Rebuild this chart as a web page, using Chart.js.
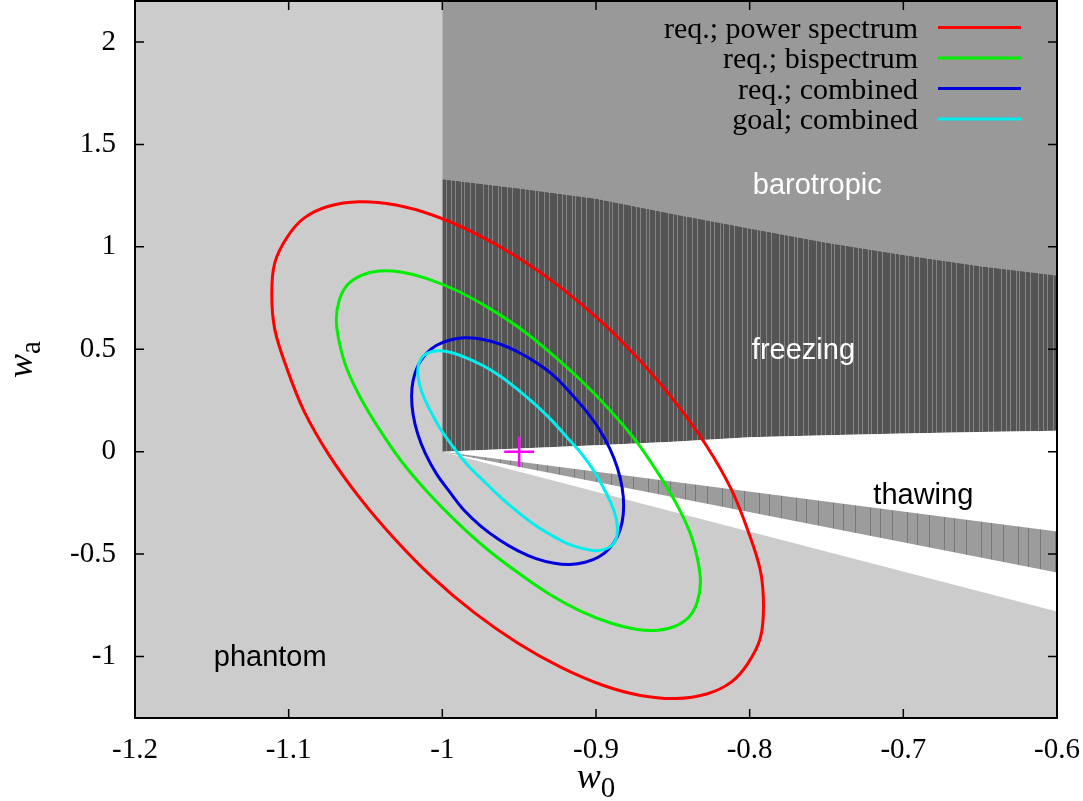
<!DOCTYPE html>
<html>
<head>
<meta charset="utf-8">
<script src="https://cdn.jsdelivr.net/npm/chart.js@4.4.1/dist/chart.umd.min.js"></script>
<style>
  body { margin: 0; background: #fff; }
  canvas { display: block; }
</style>
</head>
<body>
<canvas id="myChart" width="1083" height="801"></canvas>
<script>
// axis ticks
var xTicks = [-1.2, -1.1, -1, -0.9, -0.8, -0.7, -0.6];
var xTickLabels = ['-1.2', '-1.1', '-1', '-0.9', '-0.8', '-0.7', '-0.6'];
var yTicks = [-1, -0.5, 0, 0.5, 1, 1.5, 2];
var yTickLabels = ['-1', '-0.5', '0', '0.5', '1', '1.5', '2'];

var names = ['req.; power spectrum', 'req.; bispectrum', 'req.; combined', 'goal; combined'];

// contours (w0, wa), going round once (curve is closed)
var powerW0 = [-0.791, -0.793, -0.801, -0.812, -0.828, -0.848, -0.871, -0.896, -0.923, -0.951, -0.979, -1.006,
  -1.031, -1.054, -1.074, -1.090, -1.101, -1.109, -1.111, -1.109, -1.101, -1.090, -1.074, -1.054,
  -1.031, -1.006, -0.979, -0.951, -0.923, -0.896, -0.871, -0.848, -0.828, -0.812, -0.801, -0.793];
var powerWa = [-0.756, -0.908, -1.032, -1.125, -1.183, -1.205, -1.190, -1.139, -1.052, -0.934, -0.787, -0.616,
  -0.426, -0.223, -0.013, 0.198, 0.403, 0.596, 0.771, 0.923, 1.047, 1.140, 1.198, 1.220,
  1.205, 1.154, 1.067, 0.949, 0.802, 0.631, 0.441, 0.238, 0.028, -0.183, -0.388, -0.581];

var bispecW0 = [-0.832, -0.834, -0.839, -0.848, -0.860, -0.874, -0.891, -0.910, -0.930, -0.950, -0.971, -0.991,
  -1.010, -1.027, -1.041, -1.053, -1.062, -1.067, -1.069, -1.067, -1.062, -1.053, -1.041, -1.027,
  -1.010, -0.991, -0.971, -0.950, -0.930, -0.910, -0.891, -0.874, -0.860, -0.848, -0.839, -0.834];
var bispecWa = [-0.636, -0.731, -0.803, -0.850, -0.872, -0.867, -0.835, -0.778, -0.697, -0.595, -0.475, -0.340,
  -0.194, -0.043, 0.110, 0.260, 0.402, 0.532, 0.646, 0.741, 0.813, 0.860, 0.882, 0.877,
  0.845, 0.788, 0.707, 0.605, 0.485, 0.350, 0.204, 0.053, -0.100, -0.250, -0.392, -0.522];

var combW0 = [-0.882, -0.883, -0.886, -0.891, -0.898, -0.907, -0.917, -0.927, -0.939, -0.951, -0.963, -0.975,
  -0.986, -0.995, -1.004, -1.011, -1.016, -1.019, -1.020, -1.019, -1.016, -1.011, -1.004, -0.995,
  -0.986, -0.975, -0.963, -0.951, -0.939, -0.927, -0.917, -0.907, -0.898, -0.891, -0.886, -0.883];
var combWa = [-0.263, -0.344, -0.413, -0.470, -0.513, -0.540, -0.551, -0.545, -0.522, -0.483, -0.430, -0.363,
  -0.285, -0.199, -0.106, -0.010, 0.086, 0.180, 0.268, 0.349, 0.418, 0.475, 0.518, 0.545,
  0.556, 0.550, 0.527, 0.488, 0.435, 0.368, 0.290, 0.204, 0.111, 0.015, -0.081, -0.175];

var goalW0 = [-0.886, -0.887, -0.890, -0.895, -0.901, -0.909, -0.919, -0.929, -0.940, -0.951, -0.962, -0.973,
  -0.984, -0.993, -1.001, -1.007, -1.012, -1.015, -1.016, -1.015, -1.012, -1.007, -1.001, -0.993,
  -0.984, -0.973, -0.962, -0.951, -0.940, -0.929, -0.919, -0.909, -0.901, -0.895, -0.890, -0.887];
var goalWa = [-0.381, -0.427, -0.460, -0.478, -0.483, -0.472, -0.447, -0.408, -0.357, -0.294, -0.223, -0.144,
  -0.061, 0.024, 0.108, 0.189, 0.265, 0.333, 0.391, 0.437, 0.470, 0.488, 0.493, 0.482,
  0.457, 0.418, 0.367, 0.304, 0.233, 0.154, 0.071, -0.014, -0.098, -0.179, -0.255, -0.323];

// fiducial model
var fidW0 = [-0.95];
var fidWa = [0];

// region boundaries
var freezeW0 = [-1, -0.95, -0.9, -0.85, -0.8, -0.75, -0.7, -0.65, -0.6];
var freezeTop = [1.33, 1.285, 1.235, 1.16, 1.09, 1.02, 0.96, 0.905, 0.86];
var freezeBottom = [0, 0.016, 0.031, 0.048, 0.07, 0.08, 0.089, 0.096, 0.102];
var thawW0 = [-1, -0.6];
var thawTop = [0, -0.39];
var thawBottom = [0, -0.59];
var phantomEdge = [0, -0.78];

var serif = "'Liberation Serif', 'Times New Roman', serif";
var sans = "'Liberation Sans', Arial, sans-serif";

// region names, placed in data coords
var notes = [
  { text: 'barotropic', x: -0.756, y: 1.259, color: '#ffffff' },
  { text: 'freezing', x: -0.765, y: 0.454, color: '#ffffff' },
  { text: 'thawing', x: -0.687, y: -0.254, color: '#000000' },
  { text: 'phantom', x: -1.112, y: -1.044, color: '#000000' }
];

function pts(xs, ys) {
  return xs.map(function (x, i) { return { x: x, y: ys[i] }; });
}

// vertical hatching like the gnuplot fill
function stripes(base, line, cols, w) {
  var c = document.createElement('canvas');
  c.width = w; c.height = 8;
  var g = c.getContext('2d');
  g.fillStyle = base;
  g.fillRect(0, 0, w, 8);
  g.fillStyle = line;
  cols.forEach(function (x) { g.fillRect(x, 0, 1, 8); });
  return g.createPattern(c, 'repeat');
}
var freezeFill = stripes('#545454', '#858585', [2, 7, 11, 17, 20, 26, 31], 37);
var thawFill = stripes('#9c9c9c', '#787878', [4, 19, 29], 37);

var backdrop = {
  id: 'backdrop',
  beforeDatasetsDraw: function (chart) {
    var a = chart.chartArea, ctx = chart.ctx;
    ctx.save();
    ctx.fillStyle = '#cccccc';
    ctx.fillRect(a.left, a.top, a.right - a.left, a.bottom - a.top);
    ctx.restore();
  }
};

// contours are closed curves: let the line element join last point to first
var closeLoop = {
  id: 'closeLoop',
  afterDatasetUpdate: function (chart, args) {
    var ds = chart.data.datasets[args.index];
    if (ds.closed && args.meta.dataset) {
      args.meta.dataset._loop = true;
      args.meta.dataset._fullLoop = true;
    }
  }
};

// border + inward ticks on all four sides
var frame = {
  id: 'frame',
  afterDatasetsDraw: function (chart) {
    var a = chart.chartArea, ctx = chart.ctx;
    var sx = chart.scales.x, sy = chart.scales.y;
    ctx.save();
    ctx.strokeStyle = '#000';
    ctx.lineWidth = 1.5;
    ctx.beginPath();
    xTicks.forEach(function (v) {
      var px = sx.getPixelForValue(v);
      ctx.moveTo(px, a.bottom); ctx.lineTo(px, a.bottom - 9);
      ctx.moveTo(px, a.top); ctx.lineTo(px, a.top + 9);
    });
    yTicks.forEach(function (v) {
      var py = sy.getPixelForValue(v);
      ctx.moveTo(a.left, py); ctx.lineTo(a.left + 9, py);
      ctx.moveTo(a.right, py); ctx.lineTo(a.right - 9, py);
    });
    ctx.stroke();
    ctx.lineWidth = 2;
    ctx.strokeRect(a.left, a.top, a.right - a.left, a.bottom - a.top);
    ctx.restore();
  }
};

var extras = {
  id: 'extras',
  afterDraw: function (chart) {
    var ctx = chart.ctx;
    var sx = chart.scales.x, sy = chart.scales.y;
    ctx.save();

    // region labels
    ctx.font = '29px ' + sans;
    ctx.textAlign = 'center';
    ctx.textBaseline = 'alphabetic';
    notes.forEach(function (n) {
      ctx.fillStyle = n.color;
      ctx.fillText(n.text, sx.getPixelForValue(n.x), sy.getPixelForValue(n.y));
    });

    // legend, text left of the line sample
    ctx.font = '30px ' + serif;
    ctx.textAlign = 'right';
    for (var i = 0; i < names.length; i++) {
      var ds = chart.data.datasets[i];
      var y = 27.5 + i * 30.5;
      ctx.fillStyle = '#000';
      ctx.fillText(ds.label, 918, y + 10);
      ctx.strokeStyle = ds.borderColor;
      ctx.lineWidth = 3;
      ctx.beginPath();
      ctx.moveTo(938, y);
      ctx.lineTo(1021, y);
      ctx.stroke();
    }

    // axis titles w0 and wa
    ctx.textAlign = 'left';
    ctx.fillStyle = '#000';
    var big = 'italic 36px ' + serif, small = '29px ' + serif;
    ctx.font = big;
    var ww = ctx.measureText('w').width;
    ctx.font = small;
    var w0 = ctx.measureText('0').width;
    var x0 = (chart.chartArea.left + chart.chartArea.right) / 2 - (ww + w0) / 2;
    ctx.font = big;
    ctx.fillText('w', x0, 788);
    ctx.font = small;
    ctx.fillText('0', x0 + ww, 797);

    var wa = ctx.measureText('a').width;
    ctx.translate(32, (chart.chartArea.top + chart.chartArea.bottom) / 2);
    ctx.rotate(-Math.PI / 2);
    ctx.font = big;
    ctx.fillText('w', -(ww + wa) / 2, 0);
    ctx.font = small;
    ctx.fillText('a', -(ww + wa) / 2 + ww, 8);
    ctx.restore();
  }
};

var contour = { fill: false, borderWidth: 3, tension: 0.35, pointRadius: 0, closed: true };

var ctx = document.getElementById('myChart');
var myChart = new Chart(ctx, {
  type: 'line',
  data: {
    datasets: [
      Object.assign({}, contour, { label: names[0], data: pts(powerW0, powerWa), borderColor: '#ff0000', order: 4 }),
      Object.assign({}, contour, { label: names[1], data: pts(bispecW0, bispecWa), borderColor: '#00ee00', order: 3 }),
      Object.assign({}, contour, { label: names[2], data: pts(combW0, combWa), borderColor: '#0000dd', order: 2 }),
      Object.assign({}, contour, { label: names[3], data: pts(goalW0, goalWa), borderColor: '#00eeee', order: 1 }),
      {
        label: 'fiducial',
        data: pts(fidW0, fidWa),
        showLine: false,
        pointStyle: 'cross',
        pointRadius: 15,
        pointBorderWidth: 2.5,
        pointBorderColor: '#ff00ff',
        order: 0
      },
      // 5: barotropic, above the freezing band
      { data: pts(freezeW0, freezeTop), borderWidth: 0, pointRadius: 0, fill: 'end', backgroundColor: '#999999', order: 50 },
      // 6: freezing band
      { data: pts(freezeW0, freezeBottom), borderWidth: 0, pointRadius: 0, fill: 5, backgroundColor: freezeFill, order: 40 },
      // 7: white wedge
      { data: pts(thawW0, phantomEdge), borderWidth: 0, pointRadius: 0, fill: 6, backgroundColor: '#ffffff', order: 30 },
      // 8: thawing band
      { data: pts(thawW0, thawBottom), borderWidth: 0, pointRadius: 0, fill: 9, backgroundColor: thawFill, order: 20 },
      { data: pts(thawW0, thawTop), borderWidth: 0, pointRadius: 0, fill: false, order: 21 }
    ]
  },
  options: {
    responsive: false,
    animation: false,
    events: [],
    layout: { autoPadding: false, padding: { top: 1, right: 26, left: 0, bottom: 0 } },
    plugins: {
      legend: { display: false },
      tooltip: { enabled: false }
    },
    scales: {
      x: {
        type: 'linear',
        min: -1.2,
        max: -0.6,
        grid: { display: false, drawTicks: false },
        border: { display: false },
        afterBuildTicks: function (s) { s.ticks = xTicks.map(function (v) { return { value: v }; }); },
        afterFit: function (s) {
          s.height = 83;
          s.paddingLeft = 0; s.paddingRight = 0;
        },
        ticks: {
          font: { family: serif, size: 29 },
          color: '#000',
          padding: 15,
          maxRotation: 0,
          autoSkip: false,
          callback: function (v, i) { return xTickLabels[i]; }
        }
      },
      y: {
        type: 'linear',
        min: -1.3,
        max: 2.2,
        grid: { display: false, drawTicks: false },
        border: { display: false },
        afterBuildTicks: function (s) { s.ticks = yTicks.map(function (v) { return { value: v }; }); },
        afterFit: function (s) {
          s.width = 135;
          s.paddingTop = 0; s.paddingBottom = 0;
        },
        ticks: {
          font: { family: serif, size: 29 },
          color: '#000',
          padding: 19,
          autoSkip: false,
          callback: function (v, i) { return yTickLabels[i]; }
        }
      }
    }
  },
  plugins: [backdrop, closeLoop, frame, extras]
});
</script>
</body>
</html>
